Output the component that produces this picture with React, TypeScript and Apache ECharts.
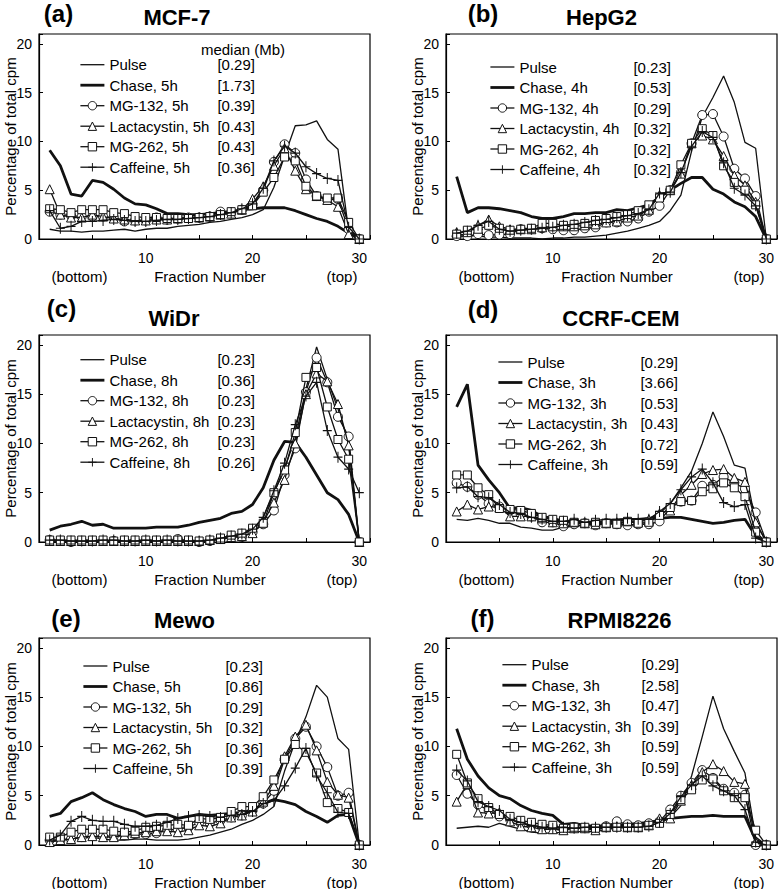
import React, { useEffect, useRef } from "react";
import * as echarts from "echarts";

const fractions = [1, 2, 3, 4, 5, 6, 7, 8, 9, 10, 11, 12, 13, 14, 15, 16, 17, 18, 19, 20, 21, 22, 23, 24, 25, 26, 27, 28, 29, 30];

// (a) MCF-7
const mcf7Pulse = [1.0, 0.8, 0.8, 0.7, 0.8, 0.8, 0.9, 1.0, 0.8, 1.0, 1.1, 1.1, 1.3, 1.4, 1.5, 1.7, 1.8, 2.0, 2.2, 2.5, 3.0, 5.3, 8.5, 11.6, 11.7, 12.1, 10.2, 9.2, 0.8, 0];
const mcf7Chase = [9.1, 7.5, 4.6, 4.4, 6.0, 5.8, 5.1, 4.2, 3.6, 3.5, 3.1, 2.6, 2.6, 2.5, 2.5, 2.6, 2.7, 2.8, 3.0, 3.1, 3.2, 3.2, 3.2, 2.9, 2.5, 2.1, 1.8, 1.3, 0.6, 0];
const mcf7Mg132 = [2.8, 2.5, 2.4, 2.3, 2.3, 2.3, 2.2, 1.8, 1.9, 1.9, 2.2, 2.0, 2.1, 2.2, 2.2, 2.3, 2.8, 2.7, 3.0, 3.5, 5.0, 7.9, 9.7, 8.8, 6.1, 4.4, 4.0, 4.1, 1.0, 0];
const mcf7Lact = [5.1, 2.5, 2.2, 2.2, 2.5, 2.3, 2.1, 2.0, 1.9, 1.9, 2.0, 2.0, 2.1, 2.2, 2.2, 2.3, 2.5, 2.6, 3.0, 4.1, 5.4, 7.5, 9.3, 7.0, 5.1, 4.4, 4.0, 3.3, 0.5, 0];
const mcf7Mg262 = [3.1, 3.0, 2.7, 3.0, 3.0, 3.0, 2.7, 2.6, 2.3, 2.2, 2.2, 2.1, 2.1, 2.1, 2.2, 2.3, 2.5, 2.8, 3.0, 3.4, 4.8, 6.3, 8.4, 8.0, 5.4, 4.4, 4.2, 4.2, 1.7, 0];
const mcf7Caff = [2.9, 1.1, 1.3, 1.8, 1.8, 1.9, 2.0, 1.9, 1.8, 1.8, 1.9, 2.0, 2.0, 2.1, 2.2, 2.3, 2.5, 2.7, 3.1, 3.6, 5.2, 8.0, 9.5, 8.8, 7.4, 6.7, 6.2, 6.0, 1.2, 0];

// (b) HepG2
const hepPulse = [0.5, 0.4, 0.3, 0.2, 0.2, 0.1, 0.1, 0.1, 0.0, 0.1, 0.1, 0.2, 0.2, 0.3, 0.4, 0.6, 0.8, 1.1, 1.4, 1.8, 2.9, 4.5, 9.0, 12.5, 14.5, 16.7, 14.0, 9.9, 9.3, 0];
const hepChase = [6.4, 2.7, 3.2, 3.2, 3.1, 2.9, 2.7, 2.3, 2.1, 2.1, 2.3, 2.6, 2.6, 2.7, 2.7, 3.0, 2.9, 3.2, 3.5, 4.3, 5.0, 5.7, 6.3, 6.3, 5.1, 4.6, 3.8, 3.3, 2.3, 0];
const hepMg132 = [0.3, 0.3, 0.5, 0.4, 0.45, 0.5, 1.0, 1.0, 1.1, 1.0, 0.9, 0.9, 1.1, 1.2, 1.7, 1.7, 1.8, 2.1, 2.8, 3.4, 5.0, 6.8, 9.8, 12.7, 12.8, 10.5, 7.2, 6.2, 4.4, 0];
const hepLact = [0.7, 0.7, 1.4, 2.0, 1.3, 1.0, 1.0, 1.0, 1.2, 1.3, 1.3, 1.3, 1.4, 1.5, 1.7, 1.8, 2.2, 2.4, 3.0, 4.5, 5.0, 6.7, 9.8, 10.6, 10.2, 8.5, 6.5, 5.5, 3.8, 0];
const hepMg262 = [0.5, 0.9, 1.0, 1.4, 1.1, 0.9, 1.0, 1.1, 1.6, 1.6, 1.4, 1.5, 1.6, 1.9, 2.1, 2.3, 2.5, 2.9, 3.5, 4.2, 5.0, 7.6, 9.8, 11.3, 10.6, 7.5, 5.8, 5.0, 3.5, 0];
const hepCaff = [0.6, 0.8, 1.4, 1.8, 1.0, 0.8, 0.9, 1.0, 1.1, 1.2, 1.4, 1.5, 1.7, 1.9, 2.0, 2.2, 2.4, 2.6, 3.0, 4.7, 4.8, 6.8, 9.5, 11.0, 10.4, 7.8, 5.2, 4.5, 3.4, 0];

// (c) WiDr
const widrPulse = [0.1, 0.1, 0.1, 0.1, 0.1, 0.1, 0.1, 0.1, 0.1, 0.1, 0.1, 0.1, 0.1, 0.1, 0.1, 0.2, 0.3, 0.5, 0.8, 1.2, 2.5, 5.0, 7.5, 10.5, 15.5, 19.8, 16.5, 13.5, 10.0, 0];
const widrChase = [1.2, 1.6, 1.8, 2.1, 1.7, 1.8, 1.4, 1.4, 1.4, 1.4, 1.5, 1.5, 1.5, 1.7, 2.0, 2.2, 2.4, 2.9, 3.1, 3.8, 5.5, 8.3, 10.2, 10.1, 8.6, 6.8, 5.0, 4.3, 2.8, 0];
const widrMg132 = [0.2, 0.1, 0.0, 0.1, 0.1, 0.1, 0.1, 0.1, 0.1, 0.1, 0.1, 0.1, 0.3, 0.1, 0.0, 0.1, 0.3, 0.5, 0.5, 1.0, 1.8, 3.2, 6.8, 9.5, 15.2, 18.7, 16.2, 12.7, 10.7, 0];
const widrLact = [0.1, 0.1, 0.1, 0.1, 0.1, 0.1, 0.1, 0.1, 0.1, 0.1, 0.1, 0.1, 0.1, 0.1, 0.1, 0.2, 0.3, 0.5, 0.6, 0.9, 2.0, 4.0, 6.3, 10.0, 15.0, 17.1, 16.3, 14.0, 9.8, 0];
const widrMg262 = [0.2, 0.2, 0.2, 0.2, 0.2, 0.2, 0.1, 0.2, 0.2, 0.2, 0.2, 0.2, 0.2, 0.2, 0.1, 0.2, 0.4, 0.7, 0.9, 1.4, 1.9, 5.0, 7.3, 11.1, 16.7, 17.7, 13.7, 10.4, 8.4, 0];
const widrCaff = [0.2, 0.2, 0.1, 0.1, 0.1, 0.2, 0.2, 0.1, 0.1, 0.2, 0.1, 0.2, 0.1, 0.1, 0.1, 0.2, 0.4, 0.6, 0.8, 1.3, 2.5, 5.2, 8.0, 11.9, 14.8, 16.2, 11.3, 8.6, 7.4, 5.0];

// (d) CCRF-CEM
const cemPulse = [2.3, 2.2, 2.4, 2.2, 1.9, 1.9, 1.5, 1.4, 1.2, 1.2, 1.5, 1.6, 1.7, 1.8, 1.9, 1.9, 2.0, 2.1, 2.4, 2.9, 3.9, 5.5, 7.2, 10.0, 13.2, 10.7, 7.8, 7.5, 2.0, 0];
const cemChase = [13.7, 16.0, 7.8, 6.3, 5.0, 3.4, 3.5, 3.2, 2.6, 2.4, 2.1, 2.1, 2.0, 2.0, 2.1, 2.2, 2.3, 2.3, 2.4, 2.4, 2.5, 2.5, 2.3, 2.1, 1.9, 2.0, 2.2, 2.3, 0.6, 0];
const cemMg132 = [6.0, 5.6, 4.8, 3.9, 3.6, 3.2, 2.8, 2.6, 2.0, 2.0, 1.6, 1.8, 1.9, 1.7, 1.9, 1.8, 1.7, 1.8, 1.8, 2.1, 3.5, 4.1, 4.2, 5.7, 5.8, 6.6, 6.0, 5.4, 3.0, 0];
const cemLact = [3.1, 3.8, 3.3, 3.6, 3.5, 2.6, 2.6, 2.6, 2.4, 2.0, 1.9, 2.0, 1.9, 1.8, 1.9, 2.0, 2.1, 2.0, 2.3, 2.9, 3.2, 4.8, 5.8, 6.9, 7.3, 7.4, 6.5, 6.1, 2.0, 0];
const cemMg262 = [6.8, 6.8, 5.5, 4.8, 3.4, 3.3, 3.2, 2.9, 2.5, 2.3, 2.2, 2.0, 1.9, 2.0, 1.9, 1.8, 2.1, 1.9, 2.0, 2.7, 3.5, 4.1, 4.2, 5.1, 5.4, 6.0, 5.5, 4.6, 1.0, 0];
const cemCaff = [5.5, 5.6, 4.6, 4.5, 3.8, 3.0, 2.9, 2.5, 2.3, 2.1, 2.1, 2.3, 2.0, 2.2, 2.3, 2.3, 2.4, 2.3, 2.3, 3.1, 3.9, 5.3, 6.6, 7.4, 6.0, 4.0, 3.6, 3.8, 0.4, 0];

// (e) Mewo
const mewoPulse = [0.4, 0.5, 0.7, 0.7, 0.8, 0.6, 0.5, 0.5, 0.6, 0.6, 0.5, 0.5, 0.5, 0.6, 0.8, 1.0, 1.3, 1.6, 2.1, 2.5, 3.1, 3.9, 7.5, 10.5, 13.0, 16.2, 15.0, 10.8, 9.7, 0];
const mewoChase = [2.9, 3.2, 4.4, 4.8, 5.3, 4.6, 4.1, 3.7, 3.4, 2.9, 3.1, 3.1, 2.7, 2.9, 3.1, 3.0, 3.1, 3.2, 3.3, 3.5, 4.2, 4.6, 4.4, 4.1, 3.4, 2.9, 2.3, 3.0, 3.1, 0];
const mewoMg132 = [0.5, 0.5, 0.6, 0.8, 0.9, 0.9, 0.9, 1.0, 1.1, 1.1, 1.2, 1.5, 1.6, 1.8, 2.3, 2.2, 2.5, 2.8, 3.0, 3.5, 4.2, 5.5, 8.7, 10.8, 12.0, 10.0, 7.9, 5.0, 5.3, 0];
const mewoLact = [0.3, 0.5, 0.6, 0.8, 0.9, 0.8, 0.8, 1.0, 1.2, 1.3, 1.4, 1.4, 1.3, 1.5, 2.0, 1.9, 2.2, 2.8, 3.0, 3.4, 4.4, 6.0, 9.0, 11.0, 12.2, 9.6, 6.4, 5.1, 4.8, 0];
const mewoMg262 = [0.8, 0.8, 1.3, 1.6, 1.6, 1.6, 1.4, 1.3, 1.4, 1.8, 1.9, 2.0, 2.1, 2.0, 2.7, 2.6, 2.8, 3.4, 3.9, 3.9, 4.9, 6.6, 8.7, 10.2, 9.4, 7.3, 4.3, 3.7, 3.3, 0];
const mewoCaff = [0.5, 1.0, 2.4, 2.9, 2.5, 2.4, 2.4, 2.1, 1.9, 1.9, 2.0, 2.3, 2.7, 2.9, 3.0, 2.9, 2.8, 3.0, 3.1, 3.4, 4.2, 4.5, 6.0, 7.8, 9.8, 7.0, 5.3, 3.3, 3.2, 0];

// (f) RPMI8226
const rpmiPulse = [1.7, 1.8, 1.9, 1.8, 2.2, 1.9, 1.6, 1.3, 1.2, 1.2, 1.3, 1.3, 1.4, 1.3, 1.6, 1.7, 1.8, 1.9, 2.0, 2.2, 2.8, 4.0, 7.0, 11.0, 15.1, 11.8, 9.5, 7.3, 0.8, 0];
const rpmiChase = [11.8, 8.7, 7.0, 5.8, 5.0, 4.7, 4.0, 3.5, 3.2, 3.0, 2.1, 2.2, 2.0, 1.9, 2.0, 2.0, 2.1, 2.2, 2.3, 2.5, 2.7, 2.8, 2.9, 2.9, 3.0, 2.9, 2.9, 2.9, 0.5, 0];
const rpmiMg132 = [7.1, 5.2, 4.1, 3.5, 2.9, 2.6, 2.2, 2.0, 1.8, 1.9, 1.6, 1.8, 1.7, 1.6, 1.9, 2.4, 2.1, 2.0, 2.2, 2.4, 3.6, 5.0, 6.3, 7.6, 6.8, 5.7, 5.3, 5.1, 0.0, 0];
const rpmiLact = [4.4, 6.2, 3.3, 3.2, 3.3, 2.4, 1.9, 1.8, 1.6, 1.6, 1.5, 1.7, 1.7, 1.5, 1.8, 1.9, 1.8, 1.8, 2.0, 2.7, 2.7, 4.5, 6.1, 7.4, 8.2, 7.5, 6.4, 6.2, 0.3, 0];
const rpmiMg262 = [9.2, 6.3, 4.7, 3.8, 3.1, 2.9, 2.5, 2.3, 2.1, 2.0, 1.7, 1.8, 1.8, 1.7, 1.8, 1.8, 1.8, 1.8, 2.0, 2.2, 3.1, 4.6, 5.6, 6.6, 6.7, 5.5, 4.8, 4.8, 1.5, 0];
const rpmiCaff = [7.6, 6.5, 4.4, 3.9, 3.5, 2.6, 2.3, 2.0, 1.8, 1.7, 1.8, 1.7, 1.8, 1.8, 1.8, 1.8, 1.8, 1.8, 1.9, 2.3, 3.2, 4.9, 6.1, 7.0, 6.0, 5.5, 5.0, 3.6, 0.3, 0];

const panelLetters = ["(a)", "(b)", "(c)", "(d)", "(e)", "(f)"];
const cellLines = ["MCF-7", "HepG2", "WiDr", "CCRF-CEM", "Mewo", "RPMI8226"];
const chaseHours = ["5h", "4h", "8h", "3h", "5h", "3h"];
const treatmentNames = ["Pulse", "Chase", "MG-132", "Lactacystin", "MG-262", "Caffeine"];
const medians = [
  ["0.29", "1.73", "0.39", "0.43", "0.43", "0.36"],
  ["0.23", "0.53", "0.29", "0.32", "0.32", "0.32"],
  ["0.23", "0.36", "0.23", "0.23", "0.23", "0.26"],
  ["0.29", "3.66", "0.53", "0.43", "0.72", "0.59"],
  ["0.23", "0.86", "0.29", "0.32", "0.36", "0.39"],
  ["0.29", "2.58", "0.47", "0.39", "0.59", "0.59"],
];
const panelValues = [
  [mcf7Pulse, mcf7Chase, mcf7Mg132, mcf7Lact, mcf7Mg262, mcf7Caff],
  [hepPulse, hepChase, hepMg132, hepLact, hepMg262, hepCaff],
  [widrPulse, widrChase, widrMg132, widrLact, widrMg262, widrCaff],
  [cemPulse, cemChase, cemMg132, cemLact, cemMg262, cemCaff],
  [mewoPulse, mewoChase, mewoMg132, mewoLact, mewoMg262, mewoCaff],
  [rpmiPulse, rpmiChase, rpmiMg132, rpmiLact, rpmiMg262, rpmiCaff],
];
const xTickLabels = ["10", "20", "30"];
const yTickLabels = ["0", "5", "10", "15", "20"];

const FONT = "'Liberation Sans', Arial, Helvetica, sans-serif";
const INK = "#111";
const GRID_W = 331;
const PLUS = "path://M4,0h1v9h-1zM0,4h9v1h-9z";

const layouts = [
  { left: 39, top: 34, height: 205, letterX: 58.5, letterBase: 21.5, nameX: 177, nameBase: 25, legendLeft: 79, legendTop: 57.2, gap: 108 },
  { left: 446, top: 34, height: 205, letterX: 483, letterBase: 21.5, nameX: 601.5, nameBase: 25, legendLeft: 489, legendTop: 59.5, gap: 114 },
  { left: 39, top: 335, height: 207, letterX: 61.5, letterBase: 316, nameX: 174, nameBase: 326, legendLeft: 79, legendTop: 352.2, gap: 108 },
  { left: 446, top: 335, height: 207, letterX: 483, letterBase: 317, nameX: 621, nameBase: 326, legendLeft: 497, legendTop: 354.5, gap: 113 },
  { left: 39, top: 638, height: 207, letterX: 66, letterBase: 626, nameX: 184.5, nameBase: 628, legendLeft: 82, legendTop: 658.5, gap: 113 },
  { left: 446, top: 638, height: 207, letterX: 482.5, letterBase: 626, nameX: 619.5, nameBase: 628, legendLeft: 501, legendTop: 657.2, gap: 110 },
];

// open markers are white-filled shapes with a thin black outline
const seriesStyles = [
  { symbol: "none", size: 0, width: 1.3, fill: INK, border: 0 },
  { symbol: "none", size: 0, width: 2.8, fill: INK, border: 0 },
  { symbol: "circle", size: 9, width: 1.3, fill: "#fff", border: 1 },
  { symbol: "triangle", size: 9, width: 1.3, fill: "#fff", border: 1 },
  { symbol: "rect", size: 8, width: 1.3, fill: "#fff", border: 1 },
  { symbol: PLUS, size: [9, 11], width: 1.3, fill: INK, border: 0 },
];

function labelFor(p: number, j: number): string {
  if (j === 0) return treatmentNames[0];
  return `${treatmentNames[j]}, ${chaseHours[p]}`;
}

export default function App() {
  const ref = useRef<HTMLDivElement>(null);

  useEffect(() => {
    if (!ref.current) return;
    const chart = echarts.init(ref.current, undefined, { renderer: "svg" });

    const grids: any[] = [];
    const xAxes: any[] = [];
    const yAxes: any[] = [];
    const series: any[] = [];
    const legends: any[] = [];
    const graphics: any[] = [];
    const display: Record<string, { label: string; median: string }> = {};

    layouts.forEach((L, p) => {
      grids.push({
        left: L.left, top: L.top, width: GRID_W, height: L.height,
        show: true, borderColor: "#000", borderWidth: 1.2, containLabel: false, outerBoundsMode: "none",
      });
      xAxes.push({
        type: "value", gridIndex: p, min: 0, max: 31, interval: 5,
        axisLine: { show: true, onZero: false, lineStyle: { color: "#000", width: 1.2 } },
        axisTick: { show: true, inside: true, length: 4, lineStyle: { color: "#000", width: 1 } },
        axisLabel: {
          margin: 12, fontSize: 14, fontFamily: FONT, color: "#000",
          formatter: (v: number) => (xTickLabels.includes(String(v)) ? String(v) : ""),
        },
        splitLine: { show: false },
      });
      yAxes.push({
        type: "value", gridIndex: p, min: 0, max: 21, interval: 5,
        name: "Percentage of total cpm", nameLocation: "middle", nameGap: 21, nameMoveOverlap: false,
        nameTextStyle: { fontSize: 15, fontFamily: FONT, color: "#000" },
        axisLine: { show: true, onZero: false, lineStyle: { color: "#000", width: 1.2 } },
        axisTick: { show: true, inside: true, length: 4, lineStyle: { color: "#000", width: 1 } },
        axisLabel: {
          margin: 7, fontSize: 14, fontFamily: FONT, color: "#000",
          formatter: (v: number) => (yTickLabels.includes(String(v)) ? String(v) : ""),
        },
        splitLine: { show: false },
      });

      const names: string[] = [];
      panelValues[p].forEach((vals, j) => {
        const st = seriesStyles[j];
        const label = labelFor(p, j);
        const sname = `${panelLetters[p]} ${label}`;
        names.push(sname);
        display[sname] = { label, median: medians[p][j] };
        series.push({
          type: "line",
          name: sname,
          xAxisIndex: p,
          yAxisIndex: p,
          data: fractions.map((f, i) => [f, vals[i]]),
          symbol: st.symbol,
          symbolSize: st.size,
          showSymbol: st.symbol !== "none",
          lineStyle: { color: INK, width: st.width },
          itemStyle: { color: st.fill, borderColor: INK, borderWidth: st.border },
          emphasis: { disabled: true },
          silent: true,
          z: 2 + j,
        });
      });

      const gap = L.gap;
      legends.push({
        left: L.legendLeft,
        top: L.legendTop,
        orient: "vertical",
        itemWidth: 24,
        itemHeight: 10.5,
        itemGap: 5.5,
        padding: 0,
        selectedMode: false,
        lineStyle: { width: "inherit", color: INK },
        data: names.map((n, j) => ({
          name: n,
          itemStyle: j < 2 ? { opacity: 0 } : { borderWidth: seriesStyles[j].border, borderColor: INK },
          lineStyle: { width: "inherit", color: INK },
        })),
        formatter: (name: string) => {
          const d = display[name];
          return `{n|${d.label}}{v|[${d.median}]}`;
        },
        textStyle: {
          fontFamily: FONT, fontSize: 15, color: "#000",
          rich: {
            n: { width: gap, fontFamily: FONT, fontSize: 15, color: "#000" },
            v: { fontFamily: FONT, fontSize: 15, color: "#000" },
          },
        },
      });

      const bottomY = L.top + L.height;
      const textEl = (text: string, x: number, y: number, size: number, bold: boolean) => ({
        type: "text",
        x, y,
        silent: true,
        style: {
          text, fill: "#000", fontSize: size, fontFamily: FONT,
          fontWeight: bold ? "bold" : "normal", align: "center", verticalAlign: "middle",
        },
      });
      graphics.push(textEl(panelLetters[p], L.letterX, L.letterBase - 8, 24, true));
      graphics.push(textEl(cellLines[p], L.nameX, L.nameBase - 7.7, 22, true));
      graphics.push(textEl("(bottom)", L.left + 40.5, bottomY + 37, 15, false));
      graphics.push(textEl("Fraction Number", L.left + 171, bottomY + 37, 15, false));
      graphics.push(textEl("(top)", L.left + 303, bottomY + 37, 15, false));
      if (p === 0) {
        graphics.push(textEl("median (Mb)", 243, 49.3, 15, false));
      }
    });

    chart.setOption({
      animation: false,
      backgroundColor: "#fff",
      textStyle: { fontFamily: FONT },
      grid: grids,
      xAxis: xAxes,
      yAxis: yAxes,
      legend: legends,
      series,
      graphic: { elements: graphics },
    });

    return () => chart.dispose();
  }, []);

  return (
    <div
      ref={ref}
      style={{ position: "fixed", left: 0, top: 0, width: 780, height: 889, background: "#fff" }}
    />
  );
}
